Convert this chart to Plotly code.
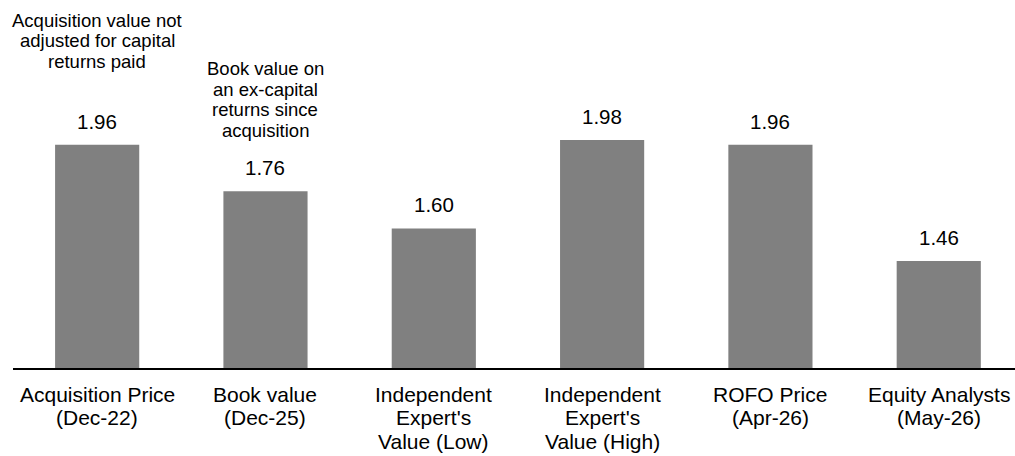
import plotly.graph_objects as go

# Chart data
categories = [
    "Acquisition Price<br>(Dec-22)",
    "Book value<br>(Dec-25)",
    "Independent<br>Expert's<br>Value (Low)",
    "Independent<br>Expert's<br>Value (High)",
    "ROFO Price<br>(Apr-26)",
    "Equity Analysts<br>(May-26)",
]
values = [1.96, 1.76, 1.60, 1.98, 1.96, 1.46]
value_labels = ["1.96", "1.76", "1.60", "1.98", "1.96", "1.46"]

# Explanatory notes above the first two bars: (bar index, lines)
notes = [
    (0, ["Acquisition value not", "adjusted for capital", "returns paid"]),
    (1, ["Book value on", "an ex-capital", "returns since", "acquisition"]),
]

FONT = "Arial, Liberation Sans, sans-serif"
BAR_COLOR = "#808080"
W, H = 1015, 456
M_L, M_R, M_T, M_B = 12.5, 0, 0, 88
Y_MIN, Y_MAX = 1.0, 2.5818
X_MIN, X_MAX = -0.5, 5.453

x_idx = list(range(len(categories)))

fig = go.Figure(
    go.Bar(
        x=x_idx,
        y=values,
        width=0.5,
        marker=dict(color=BAR_COLOR, line=dict(width=0)),
        hoverinfo="skip",
    )
)

annotations = []

# Value labels above each bar
for i, (v, lbl) in enumerate(zip(values, value_labels)):
    annotations.append(dict(
        x=i, y=v, xref="x", yref="y", text=lbl, showarrow=False,
        xanchor="center", yanchor="middle", yshift=23.5,
        font=dict(family=FONT, size=20.5, color="#000000"),
    ))

# Category labels below the axis, one annotation per line
CAT_FIRST, CAT_PITCH = 26.5, 23.4
for i, cat in enumerate(categories):
    for k, line in enumerate(cat.split("<br>")):
        annotations.append(dict(
            x=i, y=0, xref="x", yref="paper", text=line, showarrow=False,
            xanchor="center", yanchor="middle",
            yshift=-(CAT_FIRST + k * CAT_PITCH),
            font=dict(family=FONT, size=21, color="#000000"),
        ))

# Notes near the top of the chart
note_first = {0: 20.0, 1: 68.3}
NOTE_PITCH = 20.7
for bar_i, lines in notes:
    for k, line in enumerate(lines):
        annotations.append(dict(
            x=bar_i, y=1, xref="x", yref="paper", text=line, showarrow=False,
            xanchor="center", yanchor="middle",
            yshift=-(note_first[bar_i] + k * NOTE_PITCH),
            font=dict(family=FONT, size=18.5, color="#000000"),
        ))

fig.update_layout(
    width=W, height=H,
    margin=dict(l=M_L, r=M_R, t=M_T, b=M_B, pad=0),
    paper_bgcolor="#ffffff",
    plot_bgcolor="#ffffff",
    showlegend=False,
    annotations=annotations,
    xaxis=dict(
        range=[X_MIN, X_MAX], showgrid=False, zeroline=False,
        showticklabels=False, ticks="",
        showline=True, linecolor="#000000", linewidth=2,
    ),
    yaxis=dict(
        range=[Y_MIN, Y_MAX], showgrid=False, zeroline=False,
        showticklabels=False, ticks="", showline=False,
    ),
)

fig.write_html("out.html")
